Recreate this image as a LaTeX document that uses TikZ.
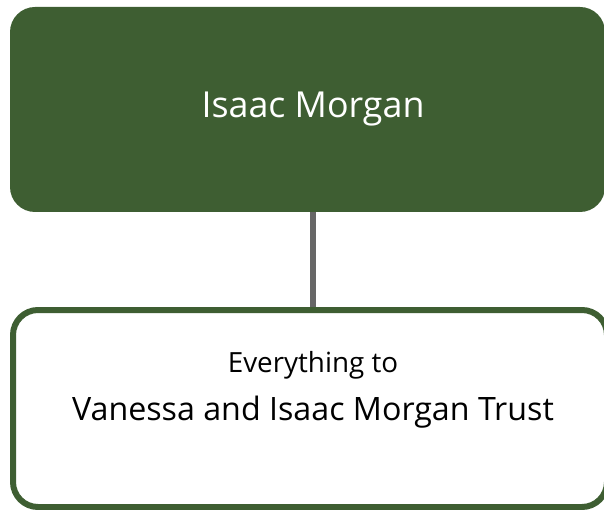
\documentclass[tikz,border=0pt]{standalone}
\usepackage{fontspec}
\setmainfont{Open Sans}
\definecolor{boxgreen}{HTML}{3E5E32}
\definecolor{linkgrey}{HTML}{676767}
\begin{document}
\begin{tikzpicture}[x=1pt,y=-1pt,
  topbox/.style={fill=boxgreen,draw=none,rounded corners=25pt},
  leafbox/.style={fill=white,draw=boxgreen,line width=6pt,rounded corners=25pt},
  link/.style={draw=linkgrey,line width=5.5pt},
  label/.style={inner sep=0pt,anchor=base}]
\useasboundingbox (0,0) rectangle (604,510);
\clip (0,0) rectangle (604,510);
% connector between the two boxes
\coordinate (linktop) at (313,200);
\coordinate (linkbot) at (313,315);
\draw[link] (linktop) -- (linkbot);
% parent box
\path[topbox] (10,7) rectangle (605,212);
\node[label,text=white,font=\fontsize{35.8}{43}\selectfont] (parent) at (313,118) {Isaac Morgan};
% child box
\path[leafbox] (13,310) rectangle (607,507);
\node[label,font=\fontsize{27.8}{33}\selectfont] (line1) at (313,372) {Everything to};
\node[label,font=\fontsize{32.2}{39}\selectfont] (line2) at (313,420) {Vanessa and Isaac Morgan Trust};
\end{tikzpicture}
\end{document}
